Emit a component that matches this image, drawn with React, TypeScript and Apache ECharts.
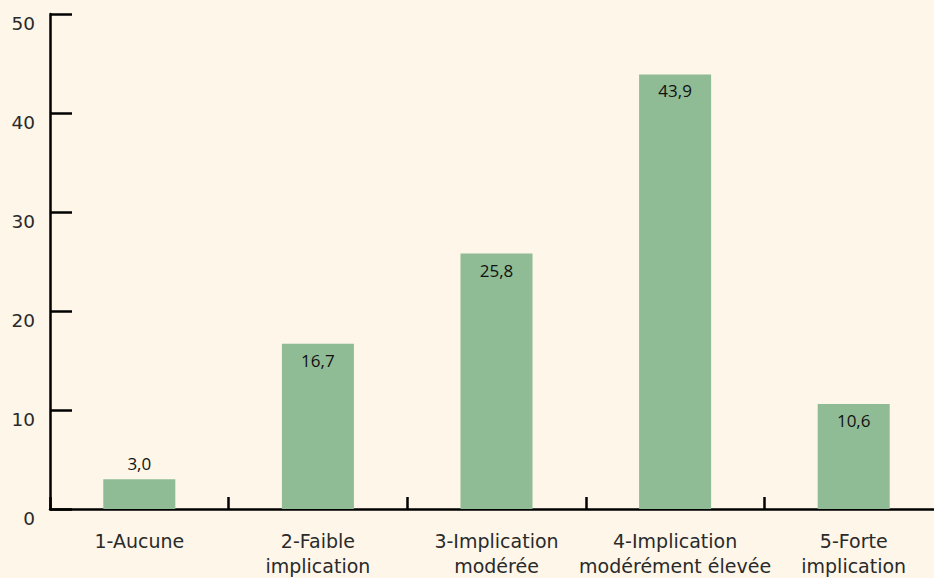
import React, { useEffect, useRef } from "react";
import * as echarts from "echarts";

const categories = [
  "1-Aucune",
  "2-Faible\nimplication",
  "3-Implication\nmodérée",
  "4-Implication\nmodérément élevée",
  "5-Forte\nimplication",
];
const values = [3.0, 16.7, 25.8, 43.9, 10.6];
const yTicks = [0, 10, 20, 30, 40, 50];

export default function App() {
  const ref = useRef<HTMLDivElement>(null);
  useEffect(() => {
    document.body.style.margin = "0";
    document.body.style.overflow = "hidden";
    const chart = echarts.init(ref.current!, undefined, { renderer: "svg" });
    chart.setOption({
      animation: false,
      backgroundColor: "#fdf6e9",
      grid: { left: 50, right: 0, top: 14, bottom: 69, containLabel: false },
      xAxis: {
        type: "category",
        data: categories,
        axisLine: { lineStyle: { color: "#000", width: 2.5 } },
        axisTick: { show: true, inside: true, length: 12, lineStyle: { color: "#000", width: 2.5 } },
        axisLabel: {
          color: "#2a2a2a",
          fontFamily: "DejaVu Sans",
          fontSize: 19,
          lineHeight: 25,
          margin: 19,
          interval: 0,
        },
      },
      yAxis: {
        type: "value",
        min: yTicks[0],
        max: yTicks[yTicks.length - 1],
        interval: 10,
        splitLine: { show: false },
        axisLine: { show: true, lineStyle: { color: "#000", width: 2.5 } },
        axisTick: { show: true, inside: true, length: 22, lineStyle: { color: "#000", width: 2.5 } },
        axisLabel: {
          color: "#2a2a2a",
          fontFamily: "DejaVu Sans",
          fontSize: 18.5,
          margin: 15,
          verticalAlign: "top",
        },
      },
      series: [
        {
          type: "bar",
          data: values.map((v) => ({
            value: v,
            label: { position: v < 8 ? "top" : "insideTop", distance: v < 8 ? 7 : 8 },
          })),
          barWidth: 72,
          itemStyle: { color: "#8fbb95" },
          label: {
            show: true,
            color: "#111",
            fontFamily: "Open Sans",
            fontSize: 17,
            formatter: (p: any) => p.value.toFixed(1).replace(".", ","),
          },
        },
      ],
    });
    return () => chart.dispose();
  }, []);
  return <div ref={ref} style={{ width: 943, height: 578 }} />;
}
